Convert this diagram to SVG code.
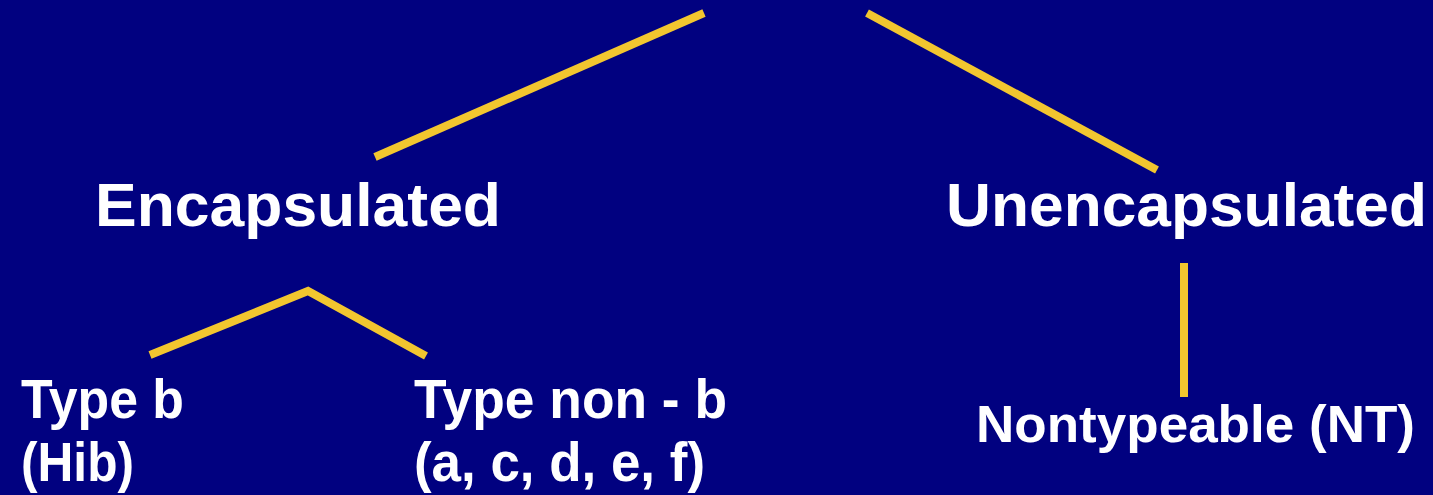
<svg xmlns="http://www.w3.org/2000/svg" width="1433" height="495" viewBox="0 0 1433 495">
<style>
.bg{fill:#010180}
.ln{stroke:#f2c62f;stroke-width:8;stroke-linecap:butt;fill:none}
.t{fill:#ffffff;font-family:"Liberation Sans",Arial,sans-serif;font-weight:bold}
.s{font-size:55px}
</style>
<rect class="bg" x="0" y="0" width="1433" height="495"/>
<g id="connectors">
<line class="ln" x1="375" y1="157" x2="704" y2="13"/>
<line class="ln" x1="867" y1="13" x2="1157" y2="170"/>
<polyline class="ln" points="150,355 308,291 426,356"/>
<line class="ln" x1="1184" y1="263" x2="1184" y2="397"/>
</g>
<g id="encapsulated">
<text class="t" x="95" y="226" font-size="62" textLength="406" lengthAdjust="spacingAndGlyphs">Encapsulated</text>
</g>
<g id="unencapsulated">
<text class="t" x="946" y="226" font-size="62" textLength="481" lengthAdjust="spacingAndGlyphs">Unencapsulated</text>
</g>
<g id="typeb">
<text class="t s" x="21" y="418" textLength="163" lengthAdjust="spacingAndGlyphs">Type b</text>
<text class="t s" x="21" y="481" textLength="113" lengthAdjust="spacingAndGlyphs">(Hib)</text>
</g>
<g id="typenonb">
<text class="t s" x="414" y="418" textLength="313" lengthAdjust="spacingAndGlyphs">Type non - b</text>
<text class="t s" x="414" y="481" textLength="291" lengthAdjust="spacingAndGlyphs">(a, c, d, e, f)</text>
</g>
<g id="nontypeable">
<text class="t" x="976" y="442" font-size="52" textLength="439" lengthAdjust="spacingAndGlyphs">Nontypeable (NT)</text>
</g>
</svg>
